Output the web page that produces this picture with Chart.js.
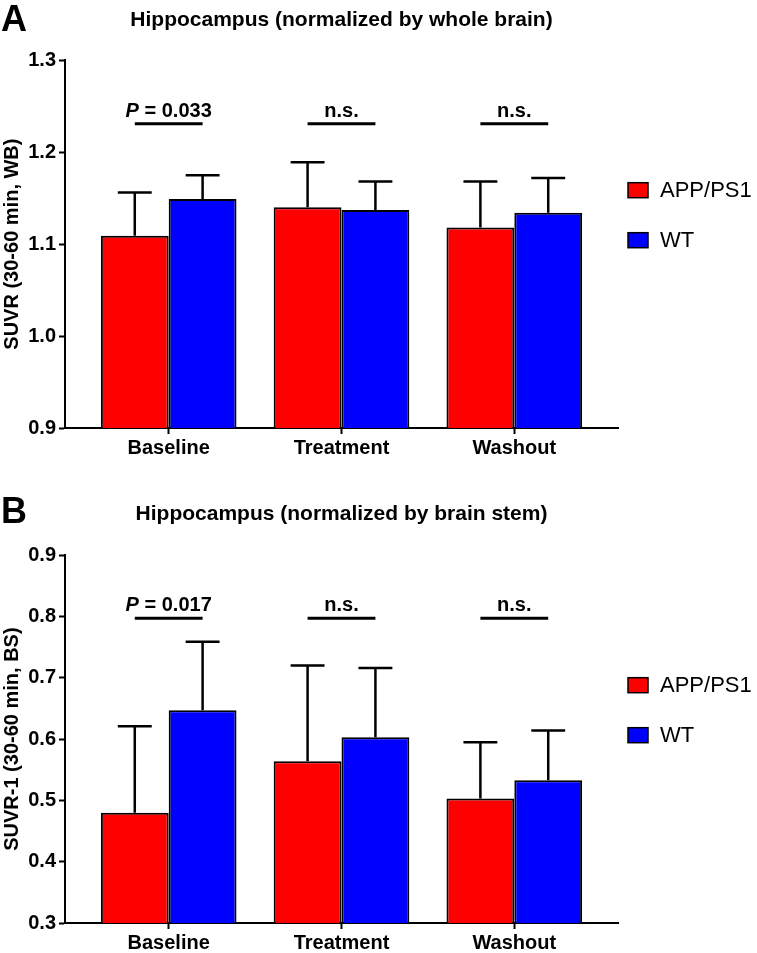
<!DOCTYPE html>
<html>
<head>
<meta charset="utf-8">
<script src="https://cdn.jsdelivr.net/npm/chart.js@4.4.1/dist/chart.umd.min.js"></script>
<style>
  html, body { margin: 0; padding: 0; background: #fff; overflow: hidden; }
  .panel { position: absolute; left: 0; width: 757px; }
  .letter {
    position: absolute; left: 1px;
    font: bold 36px "Liberation Sans", Arial, sans-serif; color: #000;
  }
</style>
</head>
<body>
<div class="panel" style="top:0;height:470px">
  <canvas id="chartA" width="757" height="470"></canvas>
  <div class="letter" style="top:-2px">A</div>
</div>
<div class="panel" style="top:470px;height:483px">
  <canvas id="chartB" width="757" height="483"></canvas>
  <div class="letter" style="top:20px">B</div>
</div>
<script>
// Data
const categories = ["Baseline", "Treatment", "Washout"];
const seriesNames = ["APP/PS1", "WT"];
const seriesColors = ["#ff0000", "#0000ff"];

// Panel A: normalized by whole brain
const wbAppMean = [1.109, 1.14, 1.118];
const wbAppErr = [0.047, 0.049, 0.05];
const wbWtMean = [1.149, 1.137, 1.134];
const wbWtErr = [0.026, 0.031, 0.038];
const wbSigLabels = ["P = 0.033", "n.s.", "n.s."];
const wbSigLevel = 1.231;
const wbTicks = [0.9, 1.0, 1.1, 1.2, 1.3];

// Panel B: normalized by brain stem
const bsAppMean = [0.48, 0.564, 0.503];
const bsAppErr = [0.141, 0.156, 0.092];
const bsWtMean = [0.647, 0.603, 0.533];
const bsWtErr = [0.112, 0.113, 0.081];
const bsSigLabels = ["P = 0.017", "n.s.", "n.s."];
const bsSigLevel = 0.797;
const bsTicks = [0.3, 0.4, 0.5, 0.6, 0.7, 0.8, 0.9];

const FONT = '"Liberation Sans", Arial, sans-serif';

// Error bars (upper only, Prism style)
const errorBarPlugin = {
  id: "errorBars",
  afterDatasetsDraw(chart) {
    const ctx = chart.ctx;
    const yScale = chart.scales.y;
    ctx.save();
    ctx.strokeStyle = "#000";
    ctx.lineWidth = 2.5;
    chart.data.datasets.forEach((ds, di) => {
      const meta = chart.getDatasetMeta(di);
      meta.data.forEach((bar, i) => {
        const top = yScale.getPixelForValue(ds.data[i].y + ds.errors[i]);
        const half = bar.width * 0.25;
        ctx.beginPath();
        ctx.moveTo(bar.x, bar.y);
        ctx.lineTo(bar.x, top);
        ctx.moveTo(bar.x - half, top);
        ctx.lineTo(bar.x + half, top);
        ctx.stroke();
      });
    });
    ctx.restore();
  },
};

// Significance lines with labels
const sigPlugin = {
  id: "sigBars",
  afterDatasetsDraw(chart, args, opts) {
    const ctx = chart.ctx;
    const y = chart.scales.y.getPixelForValue(opts.level);
    const m0 = chart.getDatasetMeta(0);
    const m1 = chart.getDatasetMeta(1);
    ctx.save();
    ctx.strokeStyle = "#000";
    ctx.fillStyle = "#000";
    ctx.lineWidth = 3;
    ctx.textBaseline = "alphabetic";
    opts.labels.forEach((label, i) => {
      const x0 = m0.data[i].x;
      const x1 = m1.data[i].x;
      ctx.beginPath();
      ctx.moveTo(x0, y);
      ctx.lineTo(x1, y);
      ctx.stroke();

      const cx = (x0 + x1) / 2;
      const ty = y - 7;
      if (label.startsWith("P")) {
        const rest = label.slice(1);
        ctx.font = "italic bold 20px " + FONT;
        const wP = ctx.measureText("P").width;
        ctx.font = "bold 20px " + FONT;
        const wR = ctx.measureText(rest).width;
        let x = cx - (wP + wR) / 2;
        ctx.textAlign = "left";
        ctx.font = "italic bold 20px " + FONT;
        ctx.fillText("P", x, ty);
        ctx.font = "bold 20px " + FONT;
        ctx.fillText(rest, x + wP, ty);
      } else {
        ctx.font = "bold 20px " + FONT;
        ctx.textAlign = "center";
        ctx.fillText(label, cx, ty);
      }
    });
    ctx.restore();
  },
};

// Legend on the right side
const sideLegendPlugin = {
  id: "sideLegend",
  afterDraw(chart, args, opts) {
    const ctx = chart.ctx;
    const area = chart.chartArea;
    ctx.save();
    ctx.font = "22px " + FONT;
    ctx.textBaseline = "middle";
    ctx.textAlign = "left";
    chart.data.datasets.forEach((ds, i) => {
      const cy = area.top + opts.offset + i * 50;
      const bx = area.right + 10;
      ctx.fillStyle = ds.backgroundColor;
      ctx.fillRect(bx, cy - 7.5, 20, 15);
      ctx.strokeStyle = "#000";
      ctx.lineWidth = 1.5;
      ctx.strokeRect(bx, cy - 7.5, 20, 15);
      ctx.fillStyle = "#000";
      ctx.fillText(ds.label, bx + 32, cy + 1);
    });
    ctx.restore();
  },
};

function makeSeries(mean) {
  return mean.map((v, i) => ({ x: i, y: v }));
}

function createPanel(canvasId, cfg) {
  const ctx = document.getElementById(canvasId);
  return new Chart(ctx, {
    type: "bar",
    data: {
      datasets: [
        {
          label: seriesNames[0],
          data: makeSeries(cfg.appMean),
          errors: cfg.appErr,
          backgroundColor: seriesColors[0],
          borderColor: "#000",
          borderWidth: 2,
          borderSkipped: false,
        },
        {
          label: seriesNames[1],
          data: makeSeries(cfg.wtMean),
          errors: cfg.wtErr,
          backgroundColor: seriesColors[1],
          borderColor: "#000",
          borderWidth: 2,
          borderSkipped: false,
        },
      ],
    },
    options: {
      responsive: false,
      animation: false,
      devicePixelRatio: 1,
      categoryPercentage: 0.785,
      barPercentage: 1.0,
      layout: { padding: { top: cfg.padTop, right: 139, left: 0, bottom: 0 } },
      plugins: {
        legend: { display: false },
        tooltip: { enabled: false },
        title: {
          display: true,
          text: cfg.title,
          fullSize: false,
          color: "#000",
          font: { family: FONT, size: 21, weight: "bold" },
          padding: { top: 0, bottom: cfg.titleGap },
        },
        sigBars: { labels: cfg.sigLabels, level: cfg.sigLevel },
        sideLegend: { offset: 130 },
      },
      scales: {
        x: {
          type: "linear",
          offset: false,
          min: -0.6,
          max: 2.6,
          afterBuildTicks: (scale) => {
            scale.ticks = categories.map((c, i) => ({ value: i }));
          },
          afterFit: (scale) => {
            scale.height = cfg.xAxisHeight;
          },
          ticks: {
            color: "#000",
            padding: 2,
            font: { family: FONT, size: 20, weight: "bold" },
            callback: (v) => categories[v],
          },
          grid: {
            offset: false,
            drawOnChartArea: false,
            drawTicks: true,
            tickLength: 6,
            tickWidth: 2,
            color: "#000",
          },
          border: { color: "#000", width: 2 },
        },
        y: {
          min: cfg.ticks[0],
          max: cfg.ticks[cfg.ticks.length - 1],
          afterBuildTicks: (scale) => {
            scale.ticks = cfg.ticks.map((v) => ({ value: v }));
          },
          afterFit: (scale) => {
            scale.width = 65;
          },
          ticks: {
            color: "#000",
            padding: 3,
            font: { family: FONT, size: 20, weight: "bold" },
            callback: (v) => Number(v).toFixed(1),
          },
          grid: {
            drawOnChartArea: false,
            drawTicks: true,
            tickLength: 6,
            tickWidth: 2,
            color: "#000",
          },
          border: { color: "#000", width: 2 },
          title: {
            display: true,
            text: cfg.yTitle,
            color: "#000",
            font: { family: FONT, size: 20, weight: "bold" },
            padding: { top: 0, bottom: 0 },
          },
        },
      },
    },
    plugins: [errorBarPlugin, sigPlugin, sideLegendPlugin],
  });
}

createPanel("chartA", {
  title: "Hippocampus (normalized by whole brain)",
  yTitle: "SUVR (30-60 min, WB)",
  appMean: wbAppMean,
  appErr: wbAppErr,
  wtMean: wbWtMean,
  wtErr: wbWtErr,
  sigLabels: wbSigLabels,
  sigLevel: wbSigLevel,
  ticks: wbTicks,
  padTop: 8,
  titleGap: 27,
  xAxisHeight: 42,
});

createPanel("chartB", {
  title: "Hippocampus (normalized by brain stem)",
  yTitle: "SUVR-1 (30-60 min, BS)",
  appMean: bsAppMean,
  appErr: bsAppErr,
  wtMean: bsWtMean,
  wtErr: bsWtErr,
  sigLabels: bsSigLabels,
  sigLevel: bsSigLevel,
  ticks: bsTicks,
  padTop: 32,
  titleGap: 28,
  xAxisHeight: 30,
});
</script>
</body>
</html>
